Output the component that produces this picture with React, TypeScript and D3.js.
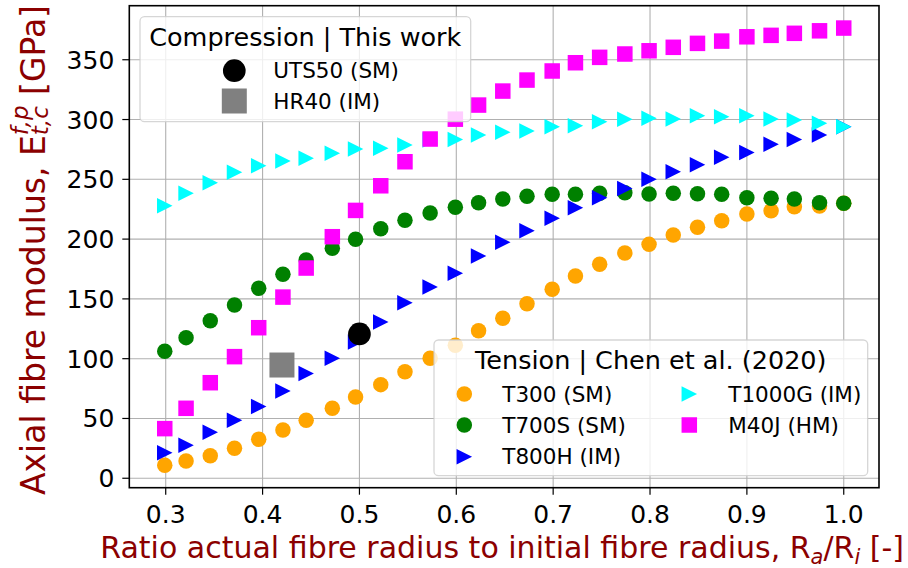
import { useEffect, useRef } from "react";
import * as d3 from "d3";

// shared x grid (ratio R_a / R_i)
const X = [0.299, 0.321, 0.346, 0.371, 0.396, 0.421, 0.445, 0.472, 0.496, 0.522, 0.547, 0.573, 0.599, 0.623, 0.648, 0.673, 0.699, 0.723, 0.748, 0.774, 0.799, 0.824, 0.849, 0.874, 0.9, 0.925, 0.949, 0.975, 1.0];

// tension data, Chen et al. (2020)
const T300 = [10.9, 14.5, 18.9, 25.1, 32.6, 40.4, 48.5, 58.5, 68.0, 78.3, 89.1, 100.3, 111.2, 123.4, 133.8, 146.0, 158.0, 169.1, 178.9, 188.3, 195.6, 203.4, 209.9, 215.4, 221.0, 223.8, 227.1, 227.7, 229.9];
const T700S = [106.2, 117.6, 131.8, 144.9, 158.9, 170.6, 182.5, 192.3, 199.8, 208.7, 215.7, 221.8, 226.6, 230.4, 233.5, 235.8, 237.5, 237.5, 238.3, 238.8, 237.7, 238.3, 238.0, 237.5, 234.6, 234.1, 233.5, 230.4, 229.9];
const T800H = [21.4, 27.7, 38.5, 48.5, 60.0, 73.0, 87.6, 100.3, 114.0, 130.6, 146.8, 160.0, 171.4, 185.9, 197.3, 207.0, 217.4, 226.3, 234.6, 242.3, 250.0, 256.4, 262.2, 268.4, 272.4, 279.3, 283.4, 287.0, 294.0];
const T1000G = [228.0, 238.3, 247.2, 255.9, 261.4, 265.3, 267.6, 271.7, 275.3, 275.9, 278.7, 282.9, 283.4, 287.0, 289.3, 290.4, 294.0, 294.8, 298.2, 300.2, 301.0, 300.4, 303.2, 302.3, 303.2, 300.4, 299.6, 296.8, 294.0];
const M40J = [41.5, 58.5, 79.9, 101.7, 125.9, 151.5, 175.8, 202.0, 224.0, 244.6, 264.7, 283.7, 300.3, 312.1, 323.8, 333.0, 340.6, 347.5, 352.0, 354.8, 357.5, 360.4, 363.7, 365.6, 369.2, 370.4, 372.1, 374.2, 376.5];

// compression, this work
const COMP_NAMES = ["UTS50 (SM)", "HR40 (IM)"];
const COMP_X = [0.5, 0.42];
const COMP_Y = [120.7, 94.7];

const TENSION = [
  { name: "T300 (SM)", values: T300, color: "orange", marker: "circle" },
  { name: "T700S (SM)", values: T700S, color: "green", marker: "circle" },
  { name: "T800H (IM)", values: T800H, color: "blue", marker: "triangle" },
  { name: "T1000G (IM)", values: T1000G, color: "cyan", marker: "triangle" },
  { name: "M40J (HM)", values: M40J, color: "magenta", marker: "square" },
];

const X_TICKS = [0.3, 0.4, 0.5, 0.6, 0.7, 0.8, 0.9, 1.0];
const Y_TICKS = [0, 50, 100, 150, 200, 250, 300, 350];

const FONT = "DejaVu Sans";
const LABEL_RED = "#8b0000";

type Part = { t: string; italic?: boolean; small?: boolean; dy?: number; stackWith?: Part };

export default function App() {
  const ref = useRef<SVGSVGElement>(null);

  useEffect(() => {
    if (!ref.current) return;
    const svg = d3.select(ref.current);
    svg.selectAll("*").remove();

    const W = 908;
    const H = 568;
    const m = { left: 129.3, right: 879, top: 5.7, bottom: 487.7 };

    svg.attr("width", W).attr("height", H);
    svg.append("rect").attr("width", W).attr("height", H).attr("fill", "#fff");

    const x = d3.scaleLinear().domain([0.2624, 1.0364]).range([m.left, m.right]);
    const y = d3.scaleLinear().domain([-7.9, 395.2]).range([m.bottom, m.top]);

    // grid
    const grid = svg.append("g").attr("stroke", "#b0b0b0").attr("stroke-width", 1.1);
    X_TICKS.forEach((t) => {
      grid.append("line").attr("x1", x(t)).attr("x2", x(t)).attr("y1", m.top).attr("y2", m.bottom);
    });
    Y_TICKS.forEach((t) => {
      grid.append("line").attr("x1", m.left).attr("x2", m.right).attr("y1", y(t)).attr("y2", y(t));
    });

    // markers
    const drawMarker = (
      g: d3.Selection<SVGGElement, unknown, null, undefined>,
      kind: string,
      cx: number,
      cy: number,
      size: number,
      color: string
    ) => {
      if (kind === "circle") {
        g.append("circle").attr("cx", cx).attr("cy", cy).attr("r", size / 2).attr("fill", color);
      } else if (kind === "square") {
        g.append("rect")
          .attr("x", cx - size / 2)
          .attr("y", cy - size / 2)
          .attr("width", size)
          .attr("height", size)
          .attr("fill", color);
      } else {
        const s = size / 2;
        g.append("path")
          .attr("d", `M${cx + s},${cy}L${cx - s},${cy - s}L${cx - s},${cy + s}Z`)
          .attr("fill", color);
      }
    };

    const plot = svg.append("g");
    TENSION.forEach((s) => {
      s.values.forEach((v, i) => drawMarker(plot, s.marker, x(X[i]), y(v), 15.5, s.color));
    });
    drawMarker(plot, "circle", x(COMP_X[0]), y(COMP_Y[0]), 22.7, "black");
    drawMarker(plot, "square", x(COMP_X[1]), y(COMP_Y[1]), 25, "gray");

    // spines
    svg.append("rect")
      .attr("x", m.left)
      .attr("y", m.top)
      .attr("width", m.right - m.left)
      .attr("height", m.bottom - m.top)
      .attr("fill", "none")
      .attr("stroke", "#000")
      .attr("stroke-width", 1.6);

    // ticks
    const tickFont = 25;
    const ax = svg.append("g");
    X_TICKS.forEach((t) => {
      ax.append("line").attr("x1", x(t)).attr("x2", x(t)).attr("y1", m.bottom).attr("y2", m.bottom + 7).attr("stroke", "#000").attr("stroke-width", 1.2);
      ax.append("text")
        .attr("x", x(t))
        .attr("y", 522.5)
        .attr("text-anchor", "middle")
        .attr("font-family", FONT)
        .attr("font-size", tickFont)
        .text(t.toFixed(1));
    });
    Y_TICKS.forEach((t) => {
      ax.append("line").attr("x1", m.left - 7).attr("x2", m.left).attr("y1", y(t)).attr("y2", y(t)).attr("stroke", "#000").attr("stroke-width", 1.2);
      ax.append("text")
        .attr("x", m.left - 15)
        .attr("y", y(t))
        .attr("dy", "0.36em")
        .attr("text-anchor", "end")
        .attr("font-family", FONT)
        .attr("font-size", tickFont)
        .text(String(t));
    });

    // rich text label with sub/superscripts, centred on the group origin
    const richLabel = (g: d3.Selection<SVGGElement, unknown, null, undefined>, parts: Part[], size: number) => {
      let cx = 0;
      const put = (p: Part, at: number) => {
        const fs = p.small ? size * 0.7 : size;
        const el = g.append("text")
          .attr("x", at)
          .attr("y", p.dy ?? 0)
          .attr("font-family", FONT)
          .attr("font-size", fs)
          .attr("font-style", p.italic ? "italic" : "normal")
          .attr("fill", LABEL_RED)
          .style("white-space", "pre")
          .text(p.t);
        return (el.node() as SVGTextElement).getComputedTextLength();
      };
      parts.forEach((p) => {
        let w = put(p, cx);
        if (p.stackWith) w = Math.max(w, put(p.stackWith, cx));
        cx += w;
      });
      g.selectAll("text").attr("x", function () {
        return +d3.select(this as SVGTextElement).attr("x") - cx / 2;
      });
    };

    const xl = svg.append("g").attr("transform", `translate(${(m.left + m.right) / 2 - 2},558)`);
    richLabel(xl, [
      { t: "Ratio actual fibre radius to initial fibre radius, R" },
      { t: "a", italic: true, small: true, dy: 6 },
      { t: "/R" },
      { t: "i", italic: true, small: true, dy: 6 },
      { t: " [-]" },
    ], 30);

    const yl = svg.append("g").attr("transform", `translate(44.5,250) rotate(-90)`);
    richLabel(yl, [
      { t: "Axial fibre modulus, E" },
      { t: "f,p", italic: true, small: true, dy: -17, stackWith: { t: "t,c", italic: true, small: true, dy: 3 } },
      { t: " [GPa]" },
    ], 33);

    // legends
    const legendBox = (x0: number, y0: number, x1: number, y1: number) =>
      svg.append("rect")
        .attr("x", x0)
        .attr("y", y0)
        .attr("width", x1 - x0)
        .attr("height", y1 - y0)
        .attr("rx", 4.5)
        .attr("fill", "#fff")
        .attr("fill-opacity", 0.8)
        .attr("stroke", "#cccccc")
        .attr("stroke-opacity", 0.8)
        .attr("stroke-width", 1.3);

    const titleFont = 25.5;
    const entryFont = 21.5;
    const legText = (g: d3.Selection<SVGGElement, unknown, null, undefined>, tx: number, ty: number, s: string, fs: number, anchor = "start") =>
      g.append("text")
        .attr("x", tx)
        .attr("y", ty)
        .attr("dy", "0.36em")
        .attr("text-anchor", anchor)
        .attr("font-family", FONT)
        .attr("font-size", fs)
        .attr("fill", "#000")
        .text(s);

    // compression legend
    legendBox(140, 16.7, 470.7, 121.7);
    const lc = svg.append("g");
    legText(lc, 305.3, 36.5, "Compression | This work", titleFont, "middle");
    drawMarker(lc, "circle", 234.3, 70.7, 22.7, "black");
    legText(lc, 273.3, 70.7, COMP_NAMES[0], entryFont);
    drawMarker(lc, "square", 234.3, 101, 25, "gray");
    legText(lc, 273.3, 101, COMP_NAMES[1], entryFont);

    // tension legend
    legendBox(434, 340, 867.7, 475.7);
    const lt = svg.append("g");
    legText(lt, 650.8, 359.5, "Tension | Chen et al. (2020)", titleFont, "middle");
    const rows = [394, 425, 456.7];
    const cols = [
      { mx: 464.3, tx: 502.3 },
      { mx: 689.3, tx: 728.3 },
    ];
    TENSION.forEach((s, i) => {
      const c = cols[Math.floor(i / 3)];
      const r = rows[i % 3];
      drawMarker(lt, s.marker, c.mx, r, 15.5, s.color);
      legText(lt, c.tx, r, s.name, entryFont);
    });
  }, []);

  return <svg ref={ref} style={{ position: "absolute", left: 0, top: 0 }} />;
}
